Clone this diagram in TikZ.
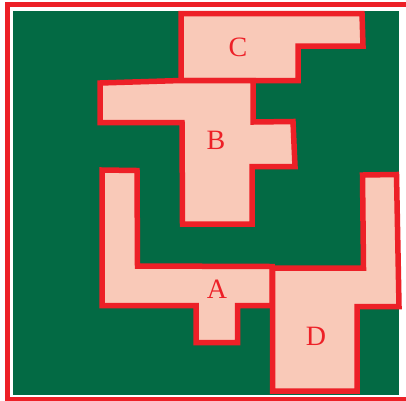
\documentclass[tikz,border=0pt]{standalone}
\usepackage{fontspec}
\setmainfont{Liberation Serif}

\definecolor{fieldgreen}{RGB}{3,106,68}
\definecolor{plotpink}{RGB}{249,201,184}
\definecolor{plotred}{RGB}{237,32,39}

\tikzset{
  plot/.style={fill=plotpink, draw=plotred, line width=5.5pt, line join=miter},
  plotlabel/.style={text=plotred, font=\fontsize{28}{30}\selectfont, inner sep=0pt}
}

\begin{document}
\begin{tikzpicture}[x=1pt, y=-1pt]

% Page size (pixels of the reference)
\useasboundingbox (0,0) rectangle (406,400);
\clip (0,0) rectangle (406,400);
\fill[white] (0,0) rectangle (406,400);

% Outer frame (right side lies off the page) and field
\draw[plotred, line width=5pt] (420,4.5) -- (7.5,4.5) -- (7.5,399) -- (420,399);
\fill[fieldgreen] (12.7,11) rectangle (399.3,395);

% Plot C
\draw[plot] (181,13.5) -- (362,13.5) -- (363,46) -- (298,46) -- (298,80.5)
  -- (181,80.5) -- cycle;

% Plot B
\draw[plot] (100,83) -- (181,80.5) -- (253,80.5) -- (253,122) -- (293,121.5)
  -- (295,166.5) -- (252,166.5) -- (252,224) -- (182.5,224) -- (182,122.5)
  -- (100,122.5) -- cycle;

% Plot A
\draw[plot] (102,170) -- (137,170.5) -- (137.5,266) -- (272,266.5)
  -- (272,305.5) -- (237.5,305.5) -- (237.5,342.5) -- (196,342.5)
  -- (196,305.5) -- (102,305.5) -- cycle;

% Plot D
\draw[plot] (272.5,268) -- (363.5,268) -- (362.5,175) -- (396.5,174.5)
  -- (399,306.5) -- (357,306.5) -- (357,391) -- (272.5,391) -- cycle;

% Labels
\node[plotlabel] (labC) at (238,47) {C};
\node[plotlabel] (labB) at (216,140) {B};
\node[plotlabel] (labA) at (217,289) {A};
\node[plotlabel] (labD) at (316,336) {D};

\end{tikzpicture}
\end{document}
